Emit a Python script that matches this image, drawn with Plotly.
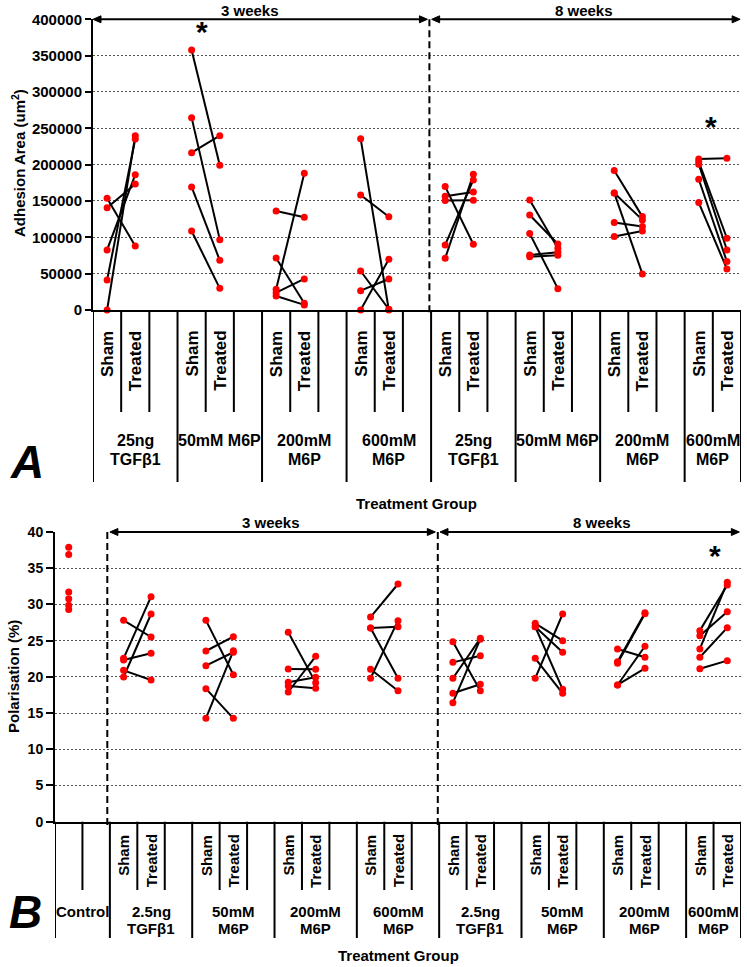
import plotly.graph_objects as go

W, H = 747, 967
FONT = "Liberation Sans, Arial, sans-serif"

# ---------------- Panel A: adhesion area (um^2) ----------------
a_ticks = [0, 50000, 100000, 150000, 200000, 250000, 300000, 350000, 400000]
a_group_line1 = ["25ng", "50mM M6P", "200mM", "600mM", "25ng", "50mM M6P", "200mM", "600mM"]
a_group_line2 = ["TGFβ1", "", "M6P", "M6P", "TGFβ1", "", "M6P", "M6P"]
a_sham = [
    [153700, 140800, 82600, 41300, 0],
    [357800, 264700, 216500, 169300, 108700],
    [136200, 71600, 28400, 23900, 19300],
    [235800, 158300, 53700, 26600, 0],
    [169800, 156500, 150600, 89500, 71100],
    [151500, 130800, 105100, 75700, 73400],
    [191900, 161100, 161100, 120300, 101000],
    [207900, 204300, 200600, 179900, 147800],
]
a_treated = [
    [88100, 173400, 186200, 235300, 239900],
    [199100, 96800, 239900, 68300, 29800],
    [127500, 9200, 188100, 42700, 7000],
    [0, 128400, 1000, 42700, 69700],
    [90400, 162500, 151000, 179000, 186800],
    [84900, 90900, 29400, 79400, 75300],
    [128500, 124000, 49600, 114800, 108800],
    [208800, 98700, 82600, 66600, 56500],
]

# ---------------- Panel B: polarisation (%) ----------------
b_ticks = [0, 5, 10, 15, 20, 25, 30, 35, 40]
b_control = [37.9, 36.9, 31.7, 30.8, 29.9, 29.3]
b_group_line1 = ["2.5ng", "50mM", "200mM", "600mM", "2.5ng", "50mM", "200mM", "600mM"]
b_group_line2 = ["TGFβ1", "M6P", "M6P", "M6P", "TGFβ1", "M6P", "M6P", "M6P"]
b_sham = [
    [27.8, 22.56, 22.33, 20.9, 19.98],
    [27.8, 23.57, 21.54, 18.37, 14.27],
    [26.15, 21.08, 19.24, 18.74, 17.91],
    [28.26, 26.75, 26.75, 21.04, 19.8],
    [24.86, 22.0, 19.8, 17.73, 16.43],
    [27.39, 26.93, 26.93, 22.56, 19.8],
    [23.85, 22.1, 21.87, 18.88, 18.88],
    [26.38, 25.69, 23.85, 22.7, 21.13],
]
b_treated = [
    [25.5, 31.07, 23.25, 19.57, 28.68],
    [20.3, 25.55, 23.4, 14.27, 23.6],
    [19.2, 21.04, 19.94, 18.42, 22.84],
    [32.82, 26.93, 19.8, 18.09, 27.76],
    [18.09, 22.92, 25.32, 18.97, 25.2],
    [25.0, 23.4, 18.28, 17.73, 28.68],
    [22.7, 28.86, 28.7, 24.22, 21.18],
    [32.68, 29.0, 33.05, 26.79, 22.24],
]

# slot layout (category positions)
a_sham_idx = [3 * g for g in range(8)]          # 23 slots: 0..22
b_sham_idx = [2 + 3 * g for g in range(8)]      # 25 slots: 0..24 (slot 0 = control)


def py(p):
    return 1 - p / H


def px(p):
    return p / W


fig = go.Figure()


def add_pairs(sham, treated, idx, xa, ya, extra_x=None, extra_y=None):
    lx, ly, mx, my = [], [], [], []
    for g, (sl, tl) in enumerate(zip(sham, treated)):
        xs, xt = idx[g], idx[g] + 1
        for s, t in zip(sl, tl):
            lx += [xs, xt, None]
            ly += [s, t, None]
            mx += [xs, xt]
            my += [s, t]
    if extra_x is not None:
        mx += list(extra_x)
        my += list(extra_y)
    fig.add_trace(go.Scatter(x=lx, y=ly, mode="lines", line=dict(color="black", width=2),
                             xaxis=xa, yaxis=ya, hoverinfo="skip", showlegend=False,
                             cliponaxis=False))
    fig.add_trace(go.Scatter(x=mx, y=my, mode="markers", marker=dict(color="#ff0000", size=7),
                             xaxis=xa, yaxis=ya, showlegend=False, cliponaxis=False))


add_pairs(a_sham, a_treated, a_sham_idx, "x", "y")
add_pairs(b_sham, b_treated, b_sham_idx, "x2", "y2",
          extra_x=[0] * len(b_control), extra_y=b_control)

# ---- axes geometry (pixels) ----
A_left, A_right, A_top, A_bot = 93, 741, 19.3, 310
B_left, B_right, B_top, B_bot = 55, 741, 532, 821.7

xcommon = dict(showticklabels=False, ticks="", showgrid=False, zeroline=False,
               showline=True, linecolor="black", linewidth=2, fixedrange=True)
ycommon = dict(ticks="outside", tickwidth=2, tickcolor="black", showline=True,
               linecolor="black", linewidth=2, gridcolor="#555555", griddash="2px,2px",
               gridwidth=1, zeroline=False, fixedrange=True)

fig.update_layout(
    width=W, height=H, autosize=False,
    margin=dict(l=0, r=0, t=0, b=0, pad=0, autoexpand=False),
    paper_bgcolor="white", plot_bgcolor="white",
    font=dict(family=FONT, color="black"),
    showlegend=False, hovermode=False,
    xaxis=dict(domain=[px(A_left), px(A_right)], range=[-0.5, 22.5], anchor="y", **xcommon),
    yaxis=dict(domain=[py(A_bot), py(A_top)], range=[0, 400000], anchor="x",
               tickvals=a_ticks, ticktext=[str(v) for v in a_ticks], ticklen=6,
               tickfont=dict(size=15, weight="bold", family=FONT), **ycommon),
    xaxis2=dict(domain=[px(B_left), px(B_right)], range=[-0.5, 24.5], anchor="y2", **xcommon),
    yaxis2=dict(domain=[py(B_bot), py(B_top)], range=[0, 40], anchor="x2",
                tickvals=b_ticks, ticktext=[str(v) for v in b_ticks], ticklen=7,
                tickfont=dict(size=14, weight="bold", family=FONT), **ycommon),
)

shapes = []
ann = []


def vline(xref, x, y0p, y1p, width=2, dash=None):
    d = dict(type="line", xref=xref, yref="paper", x0=x, x1=x, y0=py(y0p), y1=py(y1p),
             line=dict(color="black", width=width))
    if dash:
        d["line"]["dash"] = dash
    shapes.append(d)


# ---- Panel A category separators & labels ----
A_short_end, A_long_end = 412, 482
for g in range(8):
    vline("x", a_sham_idx[g] - 0.5, A_bot, A_long_end)
    vline("x", a_sham_idx[g] + 0.5, A_bot, A_short_end)
    if g < 7:
        vline("x", a_sham_idx[g] + 1.5, A_bot, A_short_end)
vline("x", 22.5, A_bot, A_long_end)
for g in range(8):
    for k, lab in enumerate(["Sham", "Treated"]):
        ann.append(dict(xref="x", yref="paper", x=a_sham_idx[g] + k, y=py(A_bot + 19),
                        text=lab, textangle=-90, showarrow=False, xanchor="center", yanchor="top",
                        font=dict(size=17, weight="bold", family=FONT)))
    cx = a_sham_idx[g] + (1 if g < 7 else 0.5)
    ann.append(dict(xref="x", yref="paper", x=cx, y=py(441), text=a_group_line1[g], showarrow=False,
                    xanchor="center", yanchor="middle", font=dict(size=16, weight="bold", family=FONT)))
    if a_group_line2[g]:
        ann.append(dict(xref="x", yref="paper", x=cx, y=py(460), text=a_group_line2[g], showarrow=False,
                        xanchor="center", yanchor="middle", font=dict(size=16, weight="bold", family=FONT)))

# ---- Panel B category separators & labels ----
B_short_end, B_long_end = 890, 938
vline("x2", -0.5, B_bot, B_long_end)
vline("x2", 0.5, B_bot, B_short_end)
for g in range(8):
    vline("x2", b_sham_idx[g] - 0.5, B_bot, B_long_end)
    vline("x2", b_sham_idx[g] + 0.5, B_bot, B_short_end)
    if g < 7:
        vline("x2", b_sham_idx[g] + 1.5, B_bot, B_short_end)
vline("x2", 24.5, B_bot, B_long_end)
ann.append(dict(xref="x2", yref="paper", x=0.5, y=py(911), text="Control", showarrow=False,
                xanchor="center", yanchor="middle", font=dict(size=15, weight="bold", family=FONT)))
for g in range(8):
    for k, lab in enumerate(["Sham", "Treated"]):
        ann.append(dict(xref="x2", yref="paper", x=b_sham_idx[g] + k, y=py(B_bot + 11),
                        text=lab, textangle=-90, showarrow=False, xanchor="center", yanchor="top",
                        font=dict(size=15, weight="bold", family=FONT)))
    cx = b_sham_idx[g] + (1 if g < 7 else 0.5)
    ann.append(dict(xref="x2", yref="paper", x=cx, y=py(911), text=b_group_line1[g], showarrow=False,
                    xanchor="center", yanchor="middle", font=dict(size=15, weight="bold", family=FONT)))
    ann.append(dict(xref="x2", yref="paper", x=cx, y=py(928), text=b_group_line2[g], showarrow=False,
                    xanchor="center", yanchor="middle", font=dict(size=15, weight="bold", family=FONT)))

# ---- dashed period dividers ----
vline("x", 11.44, A_top, A_bot + 3, dash="7px,4px")
vline("x2", 1.406, B_top, B_bot + 4, dash="7px,4px")
vline("x2", 13.45, B_top, B_bot + 4, dash="7px,4px")


# ---- period arrows (double-headed), drawn as shapes ----
def a_px(xv):
    return A_left + (xv + 0.5) * (A_right - A_left) / 23


def b_px(xv):
    return B_left + (xv + 0.5) * (B_right - B_left) / 25


def arrow(x0p, x1p, yp, hl=8, hw=3.5):
    shapes.append(dict(type="line", xref="paper", yref="paper", x0=px(x0p + 2), x1=px(x1p - 2),
                       y0=py(yp), y1=py(yp), line=dict(color="black", width=2)))
    for tip, d in ((x0p, 1), (x1p, -1)):
        path = "M {} {} L {} {} L {} {} Z".format(
            px(tip), py(yp), px(tip + d * hl), py(yp - hw), px(tip + d * hl), py(yp + hw))
        shapes.append(dict(type="path", xref="paper", yref="paper", path=path,
                           fillcolor="black", line=dict(color="black", width=1)))


arrow(a_px(-0.5), a_px(11.37), A_top)
arrow(a_px(11.52), a_px(22.47), A_top)
arrow(b_px(1.50), b_px(13.36), B_top)
arrow(b_px(13.53), b_px(24.44), B_top)


def ptext(x, y, text, size=15, **kw):
    f = dict(size=size, weight="bold", family=FONT)
    f.update(kw.pop("font", {}))
    ann.append(dict(xref="paper", yref="paper", x=px(x), y=py(y), text=text, showarrow=False,
                    xanchor="center", yanchor="middle", font=f, **kw))


ptext(250, 10, "3 weeks")
ptext(584, 10, "8 weeks")
ptext(271, 522, "3 weeks")
ptext(602, 522, "8 weeks")
ptext(417, 503, "Treatment Group")
ptext(398, 955, "Treatment Group")
ptext(18, 163, "Adhesion Area (um<sup>2</sup>)", textangle=-90)
ptext(13, 677, "Polarisation (%)", textangle=-90)
ptext(27, 462, "A", size=46, font=dict(style="italic"))
ptext(25, 912, "B", size=46, font=dict(style="italic"))

# ---- significance asterisks ----
for xr, yr, xv, yv in [("x", "y", 3.37, 383000), ("x", "y", 21.43, 252000), ("x2", "y2", 23.55, 36.8)]:
    ann.append(dict(xref=xr, yref=yr, x=xv, y=yv, text="*", showarrow=False,
                    xanchor="center", yanchor="middle",
                    font=dict(size=30, weight="bold", family=FONT)))

fig.update_layout(shapes=shapes, annotations=ann)
# remove the default 8px page margin so the figure fills the window exactly
fig.write_html("out.html", config={"displayModeBar": False},
               post_script="document.body.style.margin='0px';document.body.style.overflow='hidden';")
